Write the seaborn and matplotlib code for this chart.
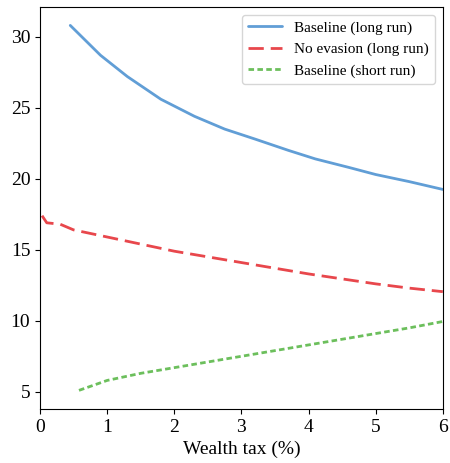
import pandas as pd
import matplotlib.pyplot as plt
import seaborn as sns

# Datos
base_long_x = [0.45, 0.9, 1.3, 1.8, 2.3, 2.75, 3.2, 3.7, 4.1, 4.6, 5.0, 5.5, 6.0]
base_long_y = [30.8, 28.7, 27.2, 25.6, 24.4, 23.5, 22.8, 22.0, 21.4, 20.8, 20.3, 19.8, 19.25]

noev_x = [0.03, 0.1, 0.3, 0.5, 1.0, 1.5, 2.0, 2.5, 3.0, 3.5, 4.0, 4.5, 5.0, 5.5, 6.0]
noev_y = [17.4, 16.9, 16.8, 16.4, 15.9, 15.4, 14.9, 14.5, 14.1, 13.7, 13.3, 12.95, 12.6, 12.3, 12.05]

base_short_x = [0.58, 1.0, 1.2, 1.5, 2.0, 2.5, 3.0, 3.5, 4.0, 4.5, 5.0, 5.5, 6.0]
base_short_y = [5.1, 5.8, 6.0, 6.3, 6.7, 7.1, 7.5, 7.9, 8.3, 8.7, 9.1, 9.5, 9.95]

labels = ['Baseline (long run)', 'No evasion (long run)', 'Baseline (short run)']
colors = ['#619ed6', '#e8474c', '#6cbf5c']

df = pd.concat([
    pd.DataFrame({'tax': base_long_x, 'val': base_long_y, 'serie': labels[0]}),
    pd.DataFrame({'tax': noev_x, 'val': noev_y, 'serie': labels[1]}),
    pd.DataFrame({'tax': base_short_x, 'val': base_short_y, 'serie': labels[2]}),
])

sns.set_style('ticks', {'axes.edgecolor': 'black', 'xtick.color': 'black',
                        'ytick.color': 'black', 'text.color': 'black',
                        'axes.labelcolor': 'black'})
plt.rcParams['font.family'] = ['Liberation Serif', 'DejaVu Serif']

fig = plt.figure(figsize=(4.5, 4.63), dpi=100)
ax = fig.add_axes([0.089, 0.117, 0.895, 0.868])
sns.lineplot(data=df, x='tax', y='val', hue='serie', style='serie',
             palette=dict(zip(labels, colors)),
             dashes={labels[0]: '', labels[1]: (5.5, 2.5), labels[2]: (2, 1.2)},
             linewidth=2, ax=ax, sort=False)

ax.set_xlim(0, 6)
ax.set_ylim(3.8, 32.1)
ax.set_yticks([5, 10, 15, 20, 25, 30])
ax.set_xticks(range(7))
ax.tick_params(labelsize=14)
ax.set_xlabel('Wealth tax (%)', fontsize=14)
ax.set_ylabel('')
ax.legend(title=None, loc='upper right', fontsize=11, handlelength=2.2)

fig.savefig('out.png', dpi=100)
